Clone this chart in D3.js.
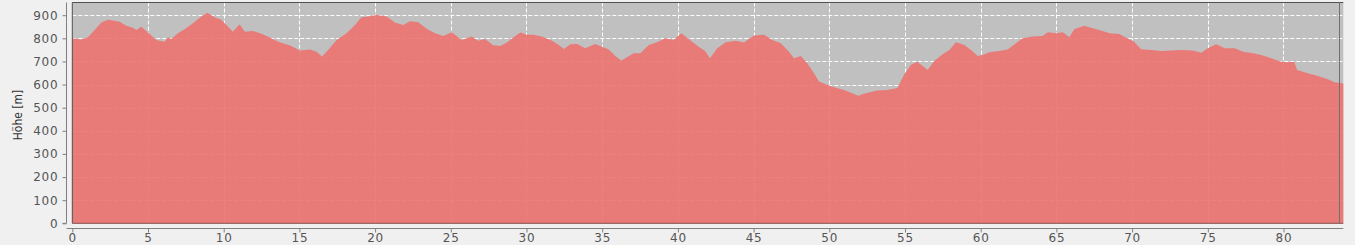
<!DOCTYPE html>
<html>
<head>
<meta charset="utf-8">
<script src="https://cdn.jsdelivr.net/npm/d3@7"></script>
<style>
  html, body { margin: 0; padding: 0; background: #f0f0f0; }
  svg { display: block; }
  .tick text { font-family: "DejaVu Sans", sans-serif; }
</style>
</head>
<body>
<svg id="chart" width="1355" height="245"></svg>
<script>
const distanceKm = [0,0.6,1.04,1.37,1.92,2.36,3.13,3.57,4.0,4.23,4.56,5.0,5.55,6.1,6.32,6.54,6.98,7.42,7.97,8.52,8.92,9.4,9.84,10.28,10.6,11.05,11.4,11.94,12.4,12.9,13.47,13.7,14.38,15.04,15.7,16.14,16.5,16.9,17.46,18.12,18.67,19.1,19.55,20.1,20.76,21.3,21.86,22.3,22.85,23.4,23.96,24.5,25.06,25.72,26.38,26.8,27.26,27.8,28.27,28.7,29.26,29.6,30.03,30.47,31.0,31.7,32.13,32.47,32.9,33.34,33.88,34.54,34.99,35.43,35.87,36.26,36.64,37.08,37.52,38.07,38.62,39.17,39.72,40.22,40.71,41.37,41.8,42.12,42.6,43.16,43.82,44.37,45.03,45.69,46.24,46.79,47.34,47.67,48.11,48.55,48.99,49.32,49.76,50.31,50.97,51.52,51.9,52.4,53.17,53.83,54.5,54.94,55.38,55.81,56.17,56.5,56.93,57.49,57.93,58.37,58.92,59.36,59.8,60.13,60.57,61.23,61.78,62.33,62.77,63.43,64.1,64.43,64.98,65.42,65.85,66.18,66.84,67.39,67.95,68.5,69.16,69.82,70.06,70.6,71.27,71.93,72.58,73.24,74.0,74.57,75.0,75.56,76.12,76.78,77.33,77.99,78.53,79.2,79.85,80.3,80.7,80.9,81.6,82.27,82.93,83.37,83.95];
const elevationM = [800,795,805,829,868,880,872,854,846,836,850,825,793,785,805,797,822,839,865,894,911,891,880,851,829,861,829,832,822,808,790,783,769,747,752,742,721,750,793,822,858,891,894,901,894,868,858,874,870,841,822,810,826,793,808,790,797,770,767,782,810,825,815,815,808,790,771,754,774,776,757,776,764,752,724,704,718,735,735,771,783,800,793,822,797,764,745,714,757,783,790,782,812,815,793,779,742,714,724,692,649,613,601,588,577,562,552,562,574,577,585,642,685,699,680,663,702,731,750,783,771,750,724,728,740,745,752,779,800,808,810,826,822,826,805,839,854,844,834,822,819,795,790,753,750,745,747,750,747,738,757,774,757,757,742,735,728,714,699,697,699,663,649,637,623,610,605];
const yTicks = [0,100,200,300,400,500,600,700,800,900];
const xTicks = [0,5,10,15,20,25,30,35,40,45,50,55,60,65,70,75,80];
const yTitle = "Höhe [m]";

const data = distanceKm.map((d, i) => ({ km: d, h: elevationM[i] }));

const svg = d3.select("#chart");
const pL = 72.3, pR = 1343.3, pT = 2.5, pB = 223.3;

const x = d3.scaleLinear().domain([0, 83.95]).range([pL, pR]);
const y = d3.scaleLinear().domain([0, 955]).range([pB, pT]);

// plot background
svg.append("rect")
  .attr("x", pL).attr("y", pT)
  .attr("width", pR - pL).attr("height", pB - pT)
  .attr("fill", "#c0c0c0");

// grid
const grid = svg.append("g");
grid.selectAll("line.h").data(yTicks.filter(d => d > 0)).join("line")
  .attr("x1", pL).attr("x2", pR)
  .attr("y1", d => Math.round(y(d)) + 0.5).attr("y2", d => Math.round(y(d)) + 0.5)
  .attr("stroke", "#ffffff").attr("stroke-width", 1)
  .attr("stroke-dasharray", "4,2");
grid.selectAll("line.v").data(xTicks.filter(d => d > 0)).join("line")
  .attr("x1", d => Math.round(x(d)) + 0.5).attr("x2", d => Math.round(x(d)) + 0.5)
  .attr("y1", pT).attr("y2", pB)
  .attr("stroke", "#ffffff").attr("stroke-width", 1)
  .attr("stroke-dasharray", "4,2");

// area
const area = d3.area()
  .x(d => x(d.km))
  .y0(pB)
  .y1(d => y(d.h));
svg.append("path")
  .datum(data)
  .attr("d", area)
  .attr("fill", "rgb(236,114,112)")
  .attr("fill-opacity", 0.9);

// frame
svg.append("path")
  .attr("d", `M${pL},${pB} L${pL},${pT} L${pR},${pT}`)
  .attr("fill", "none").attr("stroke", "#505050").attr("stroke-width", 1);
svg.append("line")
  .attr("x1", pL).attr("x2", pR).attr("y1", pB).attr("y2", pB)
  .attr("stroke", "#8a5050").attr("stroke-width", 1);
svg.append("line")
  .attr("x1", 1339.5).attr("x2", 1339.5).attr("y1", pT).attr("y2", pB)
  .attr("stroke", "#707070").attr("stroke-width", 1);

// y axis
const yAxis = d3.axisLeft(y).tickValues(yTicks).tickSize(4).tickPadding(4);
const gy = svg.append("g").attr("transform", "translate(66.5,0)").call(yAxis);
gy.select(".domain").attr("stroke", "#808080").attr("d", `M-4,${pB}H0V${pT}`);
gy.selectAll(".tick line").attr("stroke", "#808080");
gy.selectAll(".tick text")
  .attr("fill", "#555").attr("font-size", 12).attr("letter-spacing", "0.8px");

// x axis
const xAxis = d3.axisBottom(x).tickValues(xTicks).tickSize(4).tickPadding(3);
const gx = svg.append("g").attr("transform", "translate(0,228.5)").call(xAxis);
gx.select(".domain").attr("stroke", "#808080").attr("d", `M66.5,0H${pR}`);
gx.selectAll(".tick line").attr("stroke", "#808080");
gx.selectAll(".tick text")
  .attr("fill", "#555").attr("font-size", 12).attr("letter-spacing", "0.8px")
  .attr("y", 5).attr("dy", "0.71em");

// y title
svg.append("text")
  .attr("transform", "translate(21.5,115) rotate(-90)")
  .attr("text-anchor", "middle")
  .attr("font-family", "'DejaVu Sans Condensed', 'DejaVu Sans', sans-serif")
  .attr("font-stretch", "condensed")
  .attr("font-size", 12)
  .attr("fill", "#333")
  .text(yTitle);
</script>
</body>
</html>
